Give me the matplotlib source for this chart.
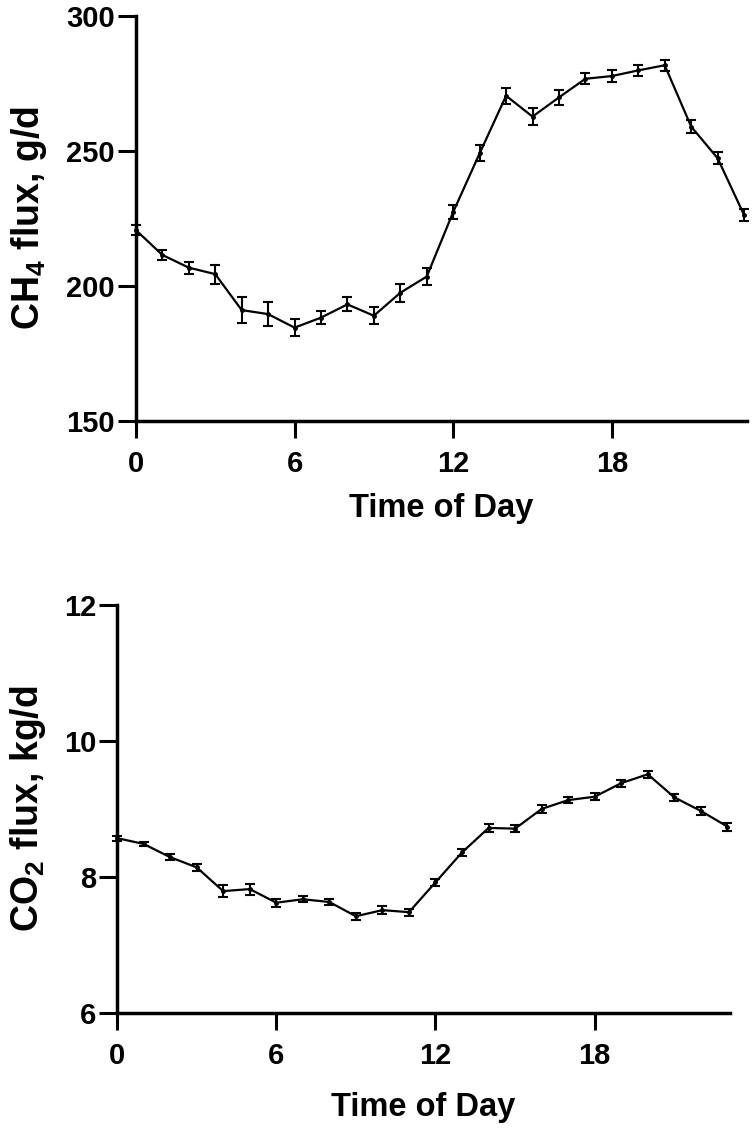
import matplotlib
matplotlib.use("Agg")
import matplotlib.pyplot as plt
import numpy as np

hours = list(range(24))
ch4_mean = [220.7, 211.5, 206.8, 204.4, 191.1, 189.6, 184.6, 188.3, 193.2, 189.0,
            197.5, 203.5, 227.4, 249.1, 270.4, 262.7, 269.8, 276.7, 277.7, 279.8,
            281.7, 259.0, 247.3, 226.3]
ch4_err = [2.0, 1.9, 2.2, 3.5, 4.7, 4.5, 3.1, 2.4, 2.6, 3.1,
           3.4, 3.2, 2.7, 3.0, 3.0, 3.0, 2.7, 2.1, 2.1, 2.1,
           2.1, 2.3, 2.3, 2.3]
co2_mean = [8.57, 8.485, 8.29, 8.14, 7.79, 7.82, 7.62, 7.67, 7.63, 7.42,
            7.51, 7.48, 7.92, 8.36, 8.72, 8.71, 9.00, 9.13, 9.18, 9.38,
            9.51, 9.17, 8.97, 8.74]
co2_err = [0.035, 0.035, 0.04, 0.055, 0.085, 0.08, 0.06, 0.045, 0.045, 0.055,
           0.06, 0.05, 0.055, 0.055, 0.06, 0.055, 0.055, 0.05, 0.05, 0.05,
           0.05, 0.055, 0.055, 0.06]
x_ticks = [0, 6, 12, 18]
ch4_ticks = [150, 200, 250, 300]
co2_ticks = [6, 8, 10, 12]

plt.rcParams['font.family'] = ['Liberation Sans', 'DejaVu Sans']
plt.rcParams['font.weight'] = 'bold'
plt.rcParams['mathtext.fontset'] = 'custom'
plt.rcParams['mathtext.rm'] = 'Liberation Sans:bold'
plt.rcParams['mathtext.it'] = 'Liberation Sans:bold'
plt.rcParams['mathtext.bf'] = 'Liberation Sans:bold'
plt.rcParams['mathtext.default'] = 'rm'

fig = plt.figure(figsize=(7.55, 11.29), dpi=100)
ax1 = fig.add_axes([0.180, 0.627, 0.809, 0.359])
ax2 = fig.add_axes([0.155, 0.103, 0.812, 0.361])


def style(ax, ylim, yticks, ylabel, ylab_x):
    ax.set_xlim(0, 23.1)
    ax.set_ylim(*ylim)
    ax.set_xticks(x_ticks)
    ax.set_yticks(yticks)
    for s in ['top', 'right']:
        ax.spines[s].set_visible(False)
    for s in ['left', 'bottom']:
        ax.spines[s].set_linewidth(2.5)
    ax.tick_params(axis='x', length=12, width=2.2, pad=9, labelsize=21)
    ax.tick_params(axis='y', length=13, width=2.2, pad=2, labelsize=21)
    for lab in ax.get_xticklabels() + ax.get_yticklabels():
        lab.set_fontweight('bold')
    ax.set_xlabel('Time of Day', fontsize=23.5, fontweight='bold')
    ax.set_ylabel(ylabel, fontsize=27, fontweight='bold')
    ax.yaxis.set_label_coords(ylab_x, 0.5)


ax1.errorbar(hours, ch4_mean, yerr=ch4_err, color='black', lw=1.6,
             elinewidth=1.5, capsize=3.5, capthick=1.5, marker='o', ms=2.5,
             clip_on=False, zorder=3)
style(ax1, (150, 300), ch4_ticks, r'CH$_4$ flux, g/d', -0.142)
ax1.xaxis.set_label_coords(0.5, -0.178)

ax2.errorbar(hours, co2_mean, yerr=co2_err, color='black', lw=1.6,
             elinewidth=1.5, capsize=3.5, capthick=1.5, marker='o', ms=2.5,
             clip_on=False, zorder=3)
style(ax2, (6, 12), co2_ticks, r'CO$_2$ flux, kg/d', -0.112)
ax2.xaxis.set_label_coords(0.5, -0.195)

fig.savefig('out.png', dpi=100)
